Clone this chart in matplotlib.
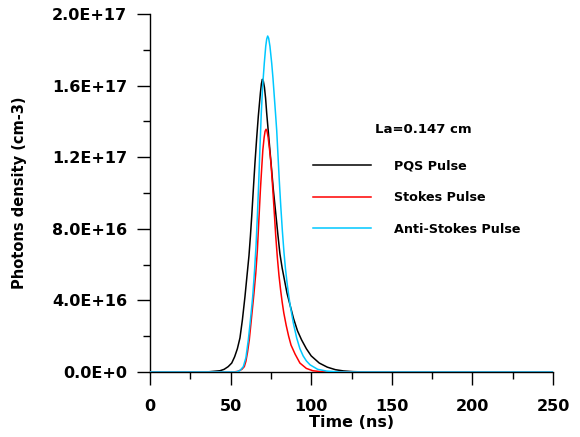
import matplotlib
matplotlib.use("Agg")
import matplotlib.pyplot as plt
from matplotlib.ticker import MultipleLocator

plt.rcParams['font.family'] = ['DejaVu Sans']

# PQS pulse (time in ns, density in 1e17 cm-3)
t_pqs = [0, 35, 43.4, 46, 48.5, 50.7, 52.5, 54.2, 55.8, 57.3, 58.9, 60.2, 61.4, 62.3, 63.1, 64.1,
         65.1, 66.2, 67.2, 68.5, 69.1, 69.7, 70.3, 71, 71.7, 72.4, 73.8, 75.1, 76.5, 78, 79.3,
         80.6, 82, 83.5, 85, 87, 89, 91.5, 94, 97, 100, 105, 110, 115, 120, 126, 135, 250]
v_pqs = [0, 0, 0.007, 0.015, 0.03, 0.05, 0.085, 0.13, 0.19, 0.29, 0.42, 0.54, 0.65, 0.76, 0.87, 1.02,
         1.166, 1.31, 1.43, 1.56, 1.61, 1.635, 1.625, 1.59, 1.53, 1.445, 1.30, 1.166, 1.02, 0.887, 0.77,
         0.66, 0.58, 0.51, 0.44, 0.37, 0.30, 0.23, 0.18, 0.13, 0.09, 0.05, 0.027, 0.013, 0.006, 0.002, 0.0, 0.0]

# Stokes pulse
t_stokes = [0, 52, 55, 57, 58.5, 59.5, 60.5, 61.6, 62.5, 63.5, 64.5, 65.6, 66.6, 67.6, 68.5, 69.3,
            70.0, 70.8, 71.4, 72.0, 72.6, 73.3, 74.2, 75.1, 76.1, 77.1, 78.0, 79.0, 80, 81, 82, 83,
            84.5, 86, 87.5, 90, 93, 97, 101, 106, 112, 250]
v_stokes = [0, 0, 0.005, 0.015, 0.03, 0.06, 0.11, 0.18, 0.26, 0.35, 0.44, 0.55, 0.68, 0.86, 1.02, 1.14,
            1.24, 1.31, 1.345, 1.356, 1.345, 1.31, 1.24, 1.16, 1.03, 0.89, 0.76, 0.64, 0.54, 0.46, 0.39, 0.33,
            0.26, 0.20, 0.15, 0.10, 0.05, 0.02, 0.007, 0.002, 0.0, 0.0]

# Anti-Stokes pulse
t_anti = [0, 53.8, 56, 57.9, 59.5, 61, 62.3, 63.7, 64.8, 65.8, 66.6, 67.4, 68.2, 69.0, 69.9, 70.9,
          71.8, 72.4, 73.0, 73.6, 74.4, 75.5, 76.3, 77.1, 77.9, 78.6, 79.4, 80.2, 81.1, 82.1, 83.1,
          84, 85, 86, 87, 88, 89, 91, 93, 95, 97, 99.3, 104, 109.6, 118, 250]
v_anti = [0, 0, 0.01, 0.03, 0.08, 0.18, 0.29, 0.42, 0.56, 0.71, 0.87, 1.05, 1.25, 1.44, 1.60, 1.725,
          1.82, 1.86, 1.877, 1.865, 1.82, 1.725, 1.64, 1.54, 1.44, 1.35, 1.21, 1.07, 0.93, 0.79, 0.67,
          0.58, 0.50, 0.43, 0.37, 0.32, 0.27, 0.19, 0.13, 0.09, 0.062, 0.04, 0.015, 0.005, 0.0, 0.0]

series_labels = ["PQS Pulse", "Stokes Pulse", "Anti-Stokes Pulse"]
series_colors = ["#000000", "#ff0000", "#00c8ff"]
y_tick_values = [0, 0.4e17, 0.8e17, 1.2e17, 1.6e17, 2.0e17]
y_tick_labels = ["0.0E+0", "4.0E+16", "8.0E+16", "1.2E+17", "1.6E+17", "2.0E+17"]
x_tick_values = [0, 50, 100, 150, 200, 250]
annotation = "La=0.147 cm"

fig = plt.figure(figsize=(5.8, 4.37), dpi=100)
ax = fig.add_axes([150/580, 1-372/437, (553-150)/580, (372-14)/437])

for t, v, lab, col in zip([t_pqs, t_stokes, t_anti], [v_pqs, v_stokes, v_anti], series_labels, series_colors):
    ax.plot(t, [x*1e17 for x in v], color=col, lw=1.1, label=lab, zorder=3)

ax.set_xlim(0, 250)
ax.set_ylim(0, 2.0e17)
ax.spines['top'].set_visible(False)
ax.spines['right'].set_visible(False)
for s in ['left', 'bottom']:
    ax.spines[s].set_linewidth(1.0)

ax.set_xticks(x_tick_values)
ax.set_xticklabels([str(x) for x in x_tick_values])
ax.xaxis.set_minor_locator(MultipleLocator(25))
ax.set_yticks(y_tick_values)
ax.set_yticklabels(y_tick_labels)
ax.yaxis.set_minor_locator(MultipleLocator(0.2e17))

ax.tick_params(which='major', direction='out', length=9.5, width=1.0, labelsize=11.5)
ax.tick_params(which='minor', direction='out', length=5, width=1.0)
ax.tick_params(axis='y', which='major', pad=7)
ax.tick_params(axis='x', which='major', pad=10)
for lbl in ax.get_xticklabels() + ax.get_yticklabels():
    lbl.set_fontweight('bold')

ax.set_xlabel("Time (ns)", fontsize=11.5, fontweight='bold')
ax.set_ylabel("Photons density (cm-3)", fontsize=10.5, fontweight='bold')
ax.xaxis.set_label_coords(0.5, (372-415)/358)
ax.yaxis.set_label_coords((27-150)/403, 0.5)

ax.text(423/580, 1-130/437, annotation, transform=fig.transFigure, fontsize=9.5,
        fontweight='bold', ha='center', va='center')

leg = ax.legend(loc='upper left', bbox_to_anchor=(301/580, 1-148/437),
                bbox_transform=fig.transFigure, frameon=False,
                handlelength=4.6, handletextpad=1.75, labelspacing=1.45,
                prop={'weight': 'bold', 'size': 9.2})

fig.savefig("out.png", dpi=100)
